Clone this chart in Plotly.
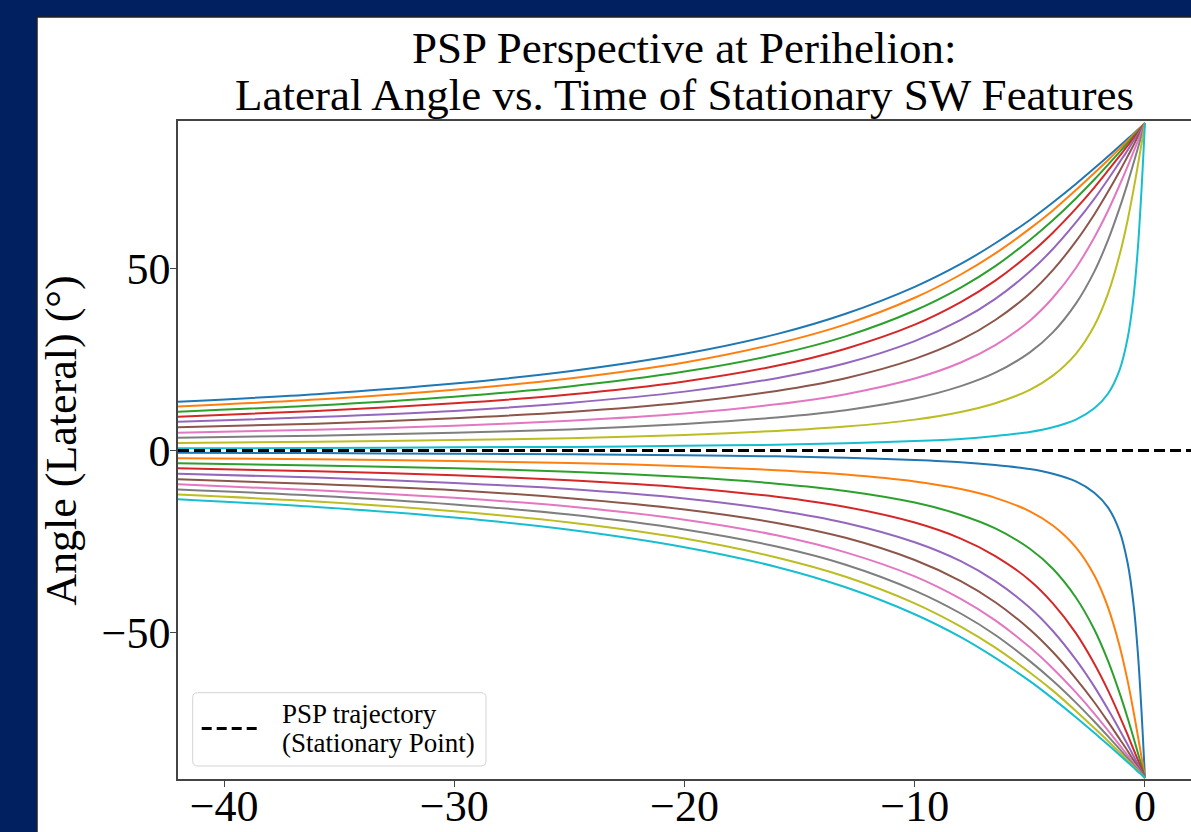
import plotly.graph_objects as go

# ---- data ----
time_days = [-42, -36, -30, -25, -20, -16, -13, -10, -8, -6.5, -5, -4, -3, -2.2, -1.6, -1.1, -0.75, -0.5, -0.3, -0.15, -0.05, 0]

# upper family (positive lateral angle), tab10 order blue..cyan
up_blue   = [13.4, 15.5, 18.4, 21.8, 26.6, 32.0, 37.6, 45.0, 51.3, 57.0, 63.4, 68.2, 73.3, 77.6, 80.9, 83.7, 85.7, 87.1, 88.3, 89.1, 89.7, 90]
up_orange = [12.1, 14.0, 16.7, 19.8, 24.2, 29.4, 34.7, 42.0, 48.4, 54.2, 61.0, 66.0, 71.6, 76.3, 79.9, 83.0, 85.2, 86.8, 88.1, 89.1, 89.7, 90]
up_green  = [10.7, 12.4, 14.8, 17.6, 21.7, 26.4, 31.4, 38.5, 44.8, 50.7, 57.9, 63.3, 69.3, 74.5, 78.6, 82.1, 84.6, 86.4, 87.8, 88.9, 89.6, 90]
up_red    = [9.3, 10.9, 13.0, 15.4, 19.0, 23.3, 28.0, 34.6, 40.8, 46.7, 54.1, 59.9, 66.5, 72.3, 77.0, 81.0, 83.8, 85.9, 87.5, 88.8, 89.6, 90]
up_purple = [7.9, 9.2, 10.9, 13.1, 16.2, 19.9, 24.0, 30.1, 35.9, 41.7, 49.2, 55.4, 62.7, 69.2, 74.6, 79.3, 82.6, 85.1, 87.0, 88.5, 89.5, 90]
up_brown  = [6.4, 7.4, 8.9, 10.6, 13.2, 16.4, 19.9, 25.2, 30.4, 35.9, 43.2, 49.6, 57.5, 64.9, 71.2, 76.8, 80.9, 83.9, 86.4, 88.2, 89.4, 90]
up_pink   = [4.9, 5.7, 6.8, 8.2, 10.2, 12.7, 15.5, 19.8, 24.2, 29.0, 35.7, 42.0, 50.2, 58.6, 66.0, 73.0, 78.2, 82.1, 85.2, 87.6, 89.2, 90]
up_gray   = [3.5, 4.1, 4.9, 5.8, 7.3, 9.1, 11.1, 14.3, 17.7, 21.4, 27.0, 32.5, 40.4, 49.2, 57.9, 66.7, 73.6, 78.9, 83.3, 86.6, 88.9, 90]
up_olive  = [2.1, 2.4, 2.9, 3.4, 4.3, 5.4, 6.6, 8.5, 10.6, 13.0, 16.7, 20.6, 26.6, 34.3, 43.2, 53.8, 63.4, 71.6, 78.7, 84.3, 88.1, 90]
up_cyan   = [0.6, 0.7, 0.9, 1.0, 1.3, 1.6, 2.0, 2.6, 3.2, 4.0, 5.1, 6.4, 8.5, 11.6, 15.7, 22.2, 31.0, 42.0, 56.3, 71.6, 83.7, 90]

# lower family (negative lateral angle), tab10 order blue..cyan
lo_blue   = [-0.6, -0.7, -0.9, -1.0, -1.3, -1.6, -2.0, -2.6, -3.2, -4.0, -5.1, -6.4, -8.5, -11.6, -15.7, -22.2, -31.0, -42.0, -56.3, -71.6, -83.7, -90]
lo_orange = [-2.1, -2.4, -2.9, -3.4, -4.3, -5.4, -6.6, -8.5, -10.6, -13.0, -16.7, -20.6, -26.6, -34.3, -43.2, -53.8, -63.4, -71.6, -78.7, -84.3, -88.1, -90]
lo_green  = [-3.5, -4.1, -4.9, -5.8, -7.3, -9.1, -11.1, -14.3, -17.7, -21.4, -27.0, -32.5, -40.4, -49.2, -57.9, -66.7, -73.6, -78.9, -83.3, -86.6, -88.9, -90]
lo_red    = [-4.9, -5.7, -6.8, -8.2, -10.2, -12.7, -15.5, -19.8, -24.2, -29.0, -35.7, -42.0, -50.2, -58.6, -66.0, -73.0, -78.2, -82.1, -85.2, -87.6, -89.2, -90]
lo_purple = [-6.4, -7.4, -8.9, -10.6, -13.2, -16.4, -19.9, -25.2, -30.4, -35.9, -43.2, -49.6, -57.5, -64.9, -71.2, -76.8, -80.9, -83.9, -86.4, -88.2, -89.4, -90]
lo_brown  = [-7.9, -9.2, -10.9, -13.1, -16.2, -19.9, -24.0, -30.1, -35.9, -41.7, -49.2, -55.4, -62.7, -69.2, -74.6, -79.3, -82.6, -85.1, -87.0, -88.5, -89.5, -90]
lo_pink   = [-9.3, -10.9, -13.0, -15.4, -19.0, -23.3, -28.0, -34.6, -40.8, -46.7, -54.1, -59.9, -66.5, -72.3, -77.0, -81.0, -83.8, -85.9, -87.5, -88.8, -89.6, -90]
lo_gray   = [-10.7, -12.4, -14.8, -17.6, -21.7, -26.4, -31.4, -38.5, -44.8, -50.7, -57.9, -63.3, -69.3, -74.5, -78.6, -82.1, -84.6, -86.4, -87.8, -88.9, -89.6, -90]
lo_olive  = [-12.1, -14.0, -16.7, -19.8, -24.2, -29.4, -34.7, -42.0, -48.4, -54.2, -61.0, -66.0, -71.6, -76.3, -79.9, -83.0, -85.2, -86.8, -88.1, -89.1, -89.7, -90]
lo_cyan   = [-13.4, -15.5, -18.4, -21.8, -26.6, -32.0, -37.6, -45.0, -51.3, -57.0, -63.4, -68.2, -73.3, -77.6, -80.9, -83.7, -85.7, -87.1, -88.3, -89.1, -89.7, -90]

traj_time = [-42, 2.1]
traj_angle = [0, 0]

x_ticks = [-40, -30, -20, -10, 0]
y_ticks = [-50, 0, 50]

title_lines = ["PSP Perspective at Perihelion:", "Lateral Angle vs. Time of Stationary SW Features"]
y_title = "Angle (Lateral) (°)"
legend_lines = ["PSP trajectory", "(Stationary Point)"]

# ---- styling ----
tab10 = ["#1f77b4", "#ff7f0e", "#2ca02c", "#d62728", "#9467bd",
         "#8c564b", "#e377c2", "#7f7f7f", "#bcbd22", "#17becf"]
upper = [up_blue, up_orange, up_green, up_red, up_purple, up_brown, up_pink, up_gray, up_olive, up_cyan]
lower = [lo_blue, lo_orange, lo_green, lo_red, lo_purple, lo_brown, lo_pink, lo_gray, lo_olive, lo_cyan]

FONT = "Liberation Serif, Times New Roman, serif"
W, H = 1191, 832
L, R, T, B = 178, 0, 121, 53
pw, ph = W - L - R, H - T - B

def px_x(p):
    return (p - L) / pw

def px_y(p):
    return (H - B - p) / ph

fig = go.Figure()
for ys, c in zip(upper, tab10):
    fig.add_trace(go.Scatter(x=time_days, y=ys, mode="lines",
                             line=dict(color=c, width=2, shape="spline", smoothing=0.8),
                             showlegend=False, hoverinfo="skip"))
for ys, c in zip(lower, tab10):
    fig.add_trace(go.Scatter(x=time_days, y=ys, mode="lines",
                             line=dict(color=c, width=2, shape="spline", smoothing=0.8),
                             showlegend=False, hoverinfo="skip"))
fig.add_trace(go.Scatter(x=traj_time, y=traj_angle, mode="lines",
                         name="PSP trajectory (Stationary Point)",
                         line=dict(color="black", width=3, dash="11px,5px"),
                         showlegend=False, hoverinfo="skip"))

annotations = [
    dict(text=title_lines[0], x=0.5, y=px_y(47.8), xref="paper", yref="paper",
         xanchor="center", yanchor="middle", showarrow=False,
         font=dict(family=FONT, size=45, color="black")),
    dict(text=title_lines[1], x=0.5, y=px_y(94.8), xref="paper", yref="paper",
         xanchor="center", yanchor="middle", showarrow=False,
         font=dict(family=FONT, size=45, color="black")),
    dict(text=y_title, x=px_x(61.7), y=px_y(441), xref="paper", yref="paper",
         xanchor="center", yanchor="middle", showarrow=False, textangle=-90,
         font=dict(family=FONT, size=44, color="black")),
    dict(text=legend_lines[0], x=px_x(280), y=px_y(714.2), xref="paper", yref="paper",
         xanchor="left", yanchor="middle", showarrow=False,
         font=dict(family=FONT, size=27, color="black")),
    dict(text=legend_lines[1], x=px_x(280), y=px_y(742.9), xref="paper", yref="paper",
         xanchor="left", yanchor="middle", showarrow=False,
         font=dict(family=FONT, size=27, color="black")),
]

# legend frame (rounded), centred so the path is symmetric
lx0, lx1, ly0, ly1 = 192.7, 486.0, 692.7, 766.0
hw, hh, rr = (lx1 - lx0) / 2, (ly1 - ly0) / 2, 5
frame_path = (f"M{-hw + rr},{-hh} L{hw - rr},{-hh} Q{hw},{-hh} {hw},{-hh + rr} "
              f"L{hw},{hh - rr} Q{hw},{hh} {hw - rr},{hh} L{-hw + rr},{hh} "
              f"Q{-hw},{hh} {-hw},{hh - rr} L{-hw},{-hh + rr} Q{-hw},{-hh} {-hw + rr},{-hh} Z")

shapes = [
    dict(type="rect", xref="paper", yref="paper", layer="below",
         x0=px_x(37), x1=px_x(W + 5), y0=px_y(H + 5), y1=px_y(17),
         fillcolor="white", line=dict(color="#222222", width=1.5)),
    dict(type="path", xref="paper", yref="paper", xsizemode="pixel", ysizemode="pixel",
         xanchor=px_x((lx0 + lx1) / 2), yanchor=px_y((ly0 + ly1) / 2),
         path=frame_path, fillcolor="rgba(255,255,255,0.8)",
         line=dict(color="#d4d4d4", width=1), layer="above"),
    dict(type="line", xref="paper", yref="paper",
         x0=px_x(201.7), x1=px_x(256.7), y0=px_y(728.5), y1=px_y(728.5),
         line=dict(color="black", width=3, dash="10px,5px"), layer="above"),
]

fig.update_layout(
    width=W, height=H,
    margin=dict(l=L, r=R, t=T, b=B, pad=0),
    paper_bgcolor="#002060",
    plot_bgcolor="white",
    font=dict(family=FONT, color="black"),
    annotations=annotations,
    shapes=shapes,
    showlegend=False,
)
fig.update_xaxes(range=[-42, 2.0], tickvals=x_ticks, showgrid=False, zeroline=False,
                 showline=True, mirror=True, linecolor="#444444", linewidth=1.5,
                 ticks="outside", ticklen=6, tickwidth=1.2, tickcolor="#444444",
                 ticklabelstandoff=-19,
                 tickfont=dict(family=FONT, size=44, color="black"), automargin=False)
fig.update_yaxes(range=[-90.3, 90.6], tickvals=y_ticks, showgrid=False, zeroline=False,
                 showline=True, mirror=False, linecolor="#444444", linewidth=1.5,
                 ticks="outside", ticklen=6, tickwidth=1.2, tickcolor="#444444",
                 ticklabelstandoff=-9,
                 tickfont=dict(family=FONT, size=44, color="black"), automargin=False)

fig.write_html("out.html", config={"displayModeBar": False},
               post_script="document.body.style.margin='0';document.body.style.padding='0';")
